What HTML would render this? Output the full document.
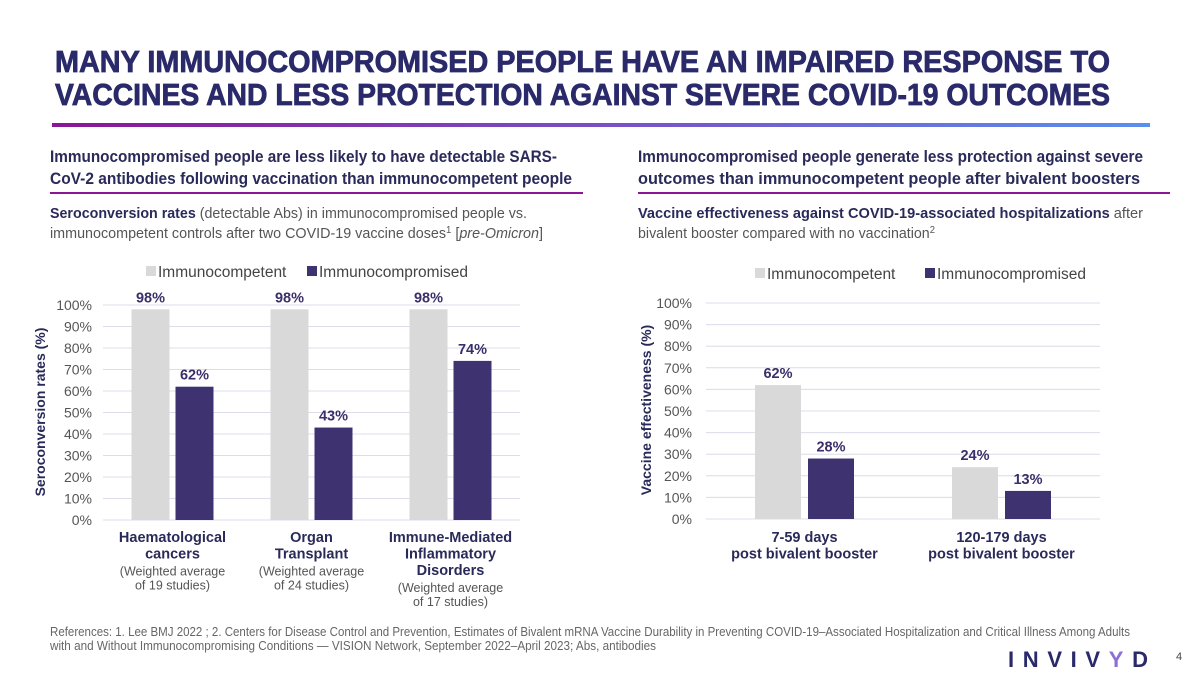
<!DOCTYPE html>
<html><head><meta charset="utf-8"><style>
html,body{margin:0;padding:0;background:#fff}
svg{display:block;font-family:"Liberation Sans",sans-serif}
</style></head><body>
<svg id="s" width="1200" height="675" viewBox="0 0 1200 675" xmlns="http://www.w3.org/2000/svg">
<defs><linearGradient id="g" x1="0" x2="1"><stop offset="0" stop-color="#8a1697"/><stop offset="0.5" stop-color="#7a4fc4"/><stop offset="1" stop-color="#5a8ef0"/></linearGradient></defs>
<g fill="#2a2a6a" font-weight="bold" font-size="31" stroke="#2a2a6a" stroke-width="0.8">
<text x="55" y="72" textLength="1055" lengthAdjust="spacingAndGlyphs">MANY IMMUNOCOMPROMISED PEOPLE HAVE AN IMPAIRED RESPONSE TO</text>
<text x="55" y="105" textLength="1055" lengthAdjust="spacingAndGlyphs">VACCINES AND LESS PROTECTION AGAINST SEVERE COVID-19 OUTCOMES</text>
</g>
<rect x="52" y="123" width="1098" height="4" fill="url(#g)"/>
<g fill="#2a2a5a" font-weight="bold" font-size="16.5">
<text x="50" y="162" textLength="507" lengthAdjust="spacingAndGlyphs">Immunocompromised people are less likely to have detectable SARS-</text>
<text x="50" y="184" textLength="522" lengthAdjust="spacingAndGlyphs">CoV-2 antibodies following vaccination than immunocompetent people</text>
<text x="638" y="162" textLength="505" lengthAdjust="spacingAndGlyphs">Immunocompromised people generate less protection against severe</text>
<text x="638" y="184" textLength="502" lengthAdjust="spacingAndGlyphs">outcomes than immunocompetent people after bivalent boosters</text>
</g>
<rect x="50" y="192" width="533" height="2" fill="#8a1697"/>
<rect x="638" y="192" width="532" height="2" fill="#8a1697"/>
<g fill="#555" font-size="15">
<text x="50" y="218" textLength="477" lengthAdjust="spacingAndGlyphs"><tspan font-weight="bold" fill="#2a2a5a">Seroconversion rates</tspan> (detectable Abs) in immunocompromised people vs.</text>
<text x="50" y="238" textLength="493" lengthAdjust="spacingAndGlyphs">immunocompetent controls after two COVID-19 vaccine doses<tspan font-size="10" dy="-5">1</tspan><tspan dy="5"> [</tspan><tspan font-style="italic">pre-Omicron</tspan>]</text>
<text x="638" y="218" textLength="505" lengthAdjust="spacingAndGlyphs"><tspan font-weight="bold" fill="#2a2a5a">Vaccine effectiveness against COVID-19-associated hospitalizations</tspan> after</text>
<text x="638" y="238" textLength="297" lengthAdjust="spacingAndGlyphs">bivalent booster compared with no vaccination<tspan font-size="10" dy="-5">2</tspan></text>
</g>
<g id="c1"></g>
<g id="c2"></g>
<g fill="#666" font-size="12.5">
<text x="50" y="636" textLength="1080" lengthAdjust="spacingAndGlyphs">References: 1. Lee BMJ 2022 ; 2. Centers for Disease Control and Prevention, Estimates of Bivalent mRNA Vaccine Durability in Preventing COVID-19–Associated Hospitalization and Critical Illness Among Adults</text>
<text x="50" y="650" textLength="606" lengthAdjust="spacingAndGlyphs">with and Without Immunocompromising Conditions — VISION Network, September 2022–April 2023; Abs, antibodies</text>
</g>
<text x="1008" y="667" font-size="22" font-weight="bold" fill="#2a2a6a" textLength="140" lengthAdjust="spacing">INVIV<tspan fill="#8c6fd8">Y</tspan>D</text>
<text x="1176" y="660" font-size="11" fill="#444">4</text>
</svg>
<script>
// Chart 1 data
const cats1 = [["Haematological","cancers","(Weighted average","of 19 studies)"],["Organ","Transplant","(Weighted average","of 24 studies)"],["Immune-Mediated","Inflammatory","Disorders","(Weighted average","of 17 studies)"]];
const comp1 = [98, 98, 98];
const immuno1 = [62, 43, 74];
const ticks = [0,10,20,30,40,50,60,70,80,90,100];
// Chart 2 data
const cats2 = [["7-59 days","post bivalent booster"],["120-179 days","post bivalent booster"]];
const comp2 = [62, 24];
const immuno2 = [28, 13];

const NS="http://www.w3.org/2000/svg";
function mk(p,tag,a,txt){const e=document.createElementNS(NS,tag);for(const k in a)e.setAttribute(k,a[k]);if(txt!=null)e.textContent=txt;p.appendChild(e);return e;}
const LIGHT="#d9d9d9",DARK="#3f3270";
function chart(g,o){
  const y=v=>o.y0-(v/100)*(o.y0-o.y100);
  ticks.forEach(t=>{
    const l=mk(g,"line",{x1:o.gx0,x2:o.gx1,y1:y(t),y2:y(t),stroke:"#dcdcea","stroke-width":1});
    
    
    const tx=mk(g,"text",{x:o.tickX,y:y(t)+5,"text-anchor":"end","font-size":14,fill:"#555"},t+"%");
    
    
  });
  const at=mk(g,"text",{transform:`translate(${o.axX},${o.axY}) rotate(-90)`,"text-anchor":"middle","font-size":14,"font-weight":"bold",fill:"#2a2a5a"},o.axTitle);
  
  
  const n=o.cats.length, gw=(o.gx1-o.gx0)/n;
  o.cats.forEach((c,i)=>{
    const cx=o.gx0+gw*(i+0.5);
    [[o.comp[i],LIGHT,-1,'bar-immunocompetent'],[o.imm[i],DARK,1,'bar-immunocompromised']].forEach(([v,col,s,nm])=>{
      const x=s<0?cx-o.gap/2-o.bw:cx+o.gap/2;
      const r=mk(g,"rect",{x:x,y:y(v),width:o.bw,height:y(0)-y(v),fill:col});
      
      
      const t=mk(g,"text",{x:x+o.bw/2,y:y(v)-7,"text-anchor":"middle","font-size":14.5,"font-weight":"bold",fill:"#3b2f6b"},v+"%");
      
      
    });
    let yy=o.labY, prevSm=null;
    c.forEach((line,j)=>{
      const sm=line.startsWith("(")||line.startsWith("of ");
      if(j>0) yy += sm ? (prevSm ? 14 : 17) : 16.5;
      prevSm=sm;
      const t=mk(g,"text",{x:cx,y:yy,"text-anchor":"middle","font-size":sm?12.5:14.5,"font-weight":sm?"normal":"bold",fill:sm?"#555":"#2a2a5a"},line);
      
      
    });
  });
  [[o.lg[0],LIGHT,"Immunocompetent"],[o.lg[1],DARK,"Immunocompromised"]].forEach(([x,col,txt])=>{
    const r=mk(g,"rect",{x:x,y:o.lgY-11,width:10,height:10,fill:col});
    
    
    const t=mk(g,"text",{x:x+12,y:o.lgY,"font-size":15.5,fill:"#444"},txt);
    
    
  });
}
const c1=document.getElementById("c1"), c2=document.getElementById("c2");
chart(c1,{cats:cats1,comp:comp1,imm:immuno1,y0:520,y100:305,gx0:103,gx1:520,bw:38,gap:6,tickX:92,
  axX:45,axY:412,axTitle:"Seroconversion rates (%)",labY:542,lg:[146,307],lgY:277});
chart(c2,{cats:cats2,comp:comp2,imm:immuno2,y0:519,y100:303,gx0:706,gx1:1100,bw:46,gap:7,tickX:692,
  axX:651,axY:410,axTitle:"Vaccine effectiveness (%)",labY:542,lg:[755,925],lgY:279});
</script>
</body></html>
